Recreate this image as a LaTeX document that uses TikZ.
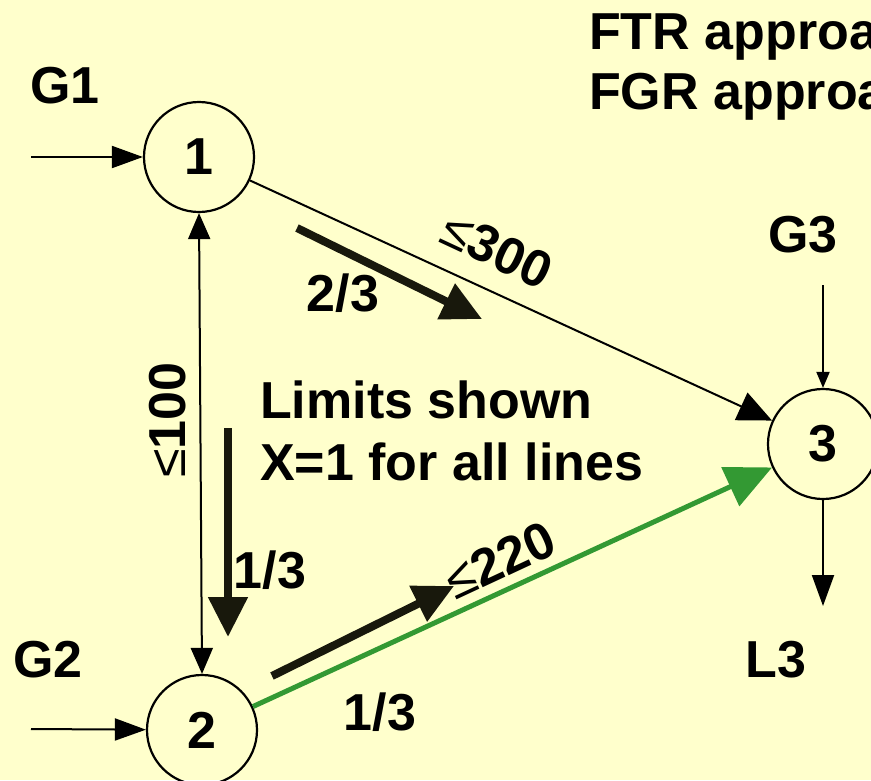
\documentclass[tikz,border=0pt]{standalone}
\usepackage{fontspec}
\setmainfont{Liberation Sans}
\usetikzlibrary{arrows.meta}
\definecolor{bg}{HTML}{FFFFCC}
\definecolor{dk}{HTML}{18180C}
\definecolor{gr}{HTML}{339933}
\begin{document}
\begin{tikzpicture}[x=1pt,y=-1pt,
  lbl/.style={font=\fontsize{52}{60}\selectfont\bfseries, inner sep=0pt},
  bus/.style={circle,draw,line width=2.2pt,minimum size=110pt,inner sep=0pt,font=\fontsize{52}{60}\selectfont\bfseries},
  thinarr/.style={line width=2pt,-{Triangle[length=31pt,width=22pt]}},
  smallarr/.style={line width=2pt,-{Triangle[length=16pt,width=13pt]}},
  midarr/.style={line width=2pt,-{Triangle[length=34pt,width=30pt]}},
  dblarr/.style={line width=2pt,{Triangle[length=26pt,width=22pt]}-{Triangle[length=26pt,width=22pt]}},
  thickarr/.style={dk,line width=8pt,-{Triangle[length=40pt,width=38pt]}},
  greenarr/.style={gr,line width=5pt,-{Triangle[length=46pt,width=42pt]}}]
\fill[bg] (0,0) rectangle (871,780);
\useasboundingbox (0,0) rectangle (871,780);

% buses
\node[bus] (n1) at (199,157) {1};
\node[bus] (n2) at (202,730) {2};
\node[bus] (n3) at (823,444) {3};

% free ends
\coordinate (g1in) at (31,157);
\coordinate (g2in) at (31,729);
\coordinate (g3in) at (823,285);
\coordinate (l3out) at (823,606);
\coordinate (t1a) at (297,228);
\coordinate (t1b) at (482,319);
\coordinate (t2a) at (228,428);
\coordinate (t2b) at (228,637);
\coordinate (t3a) at (272,676);
\coordinate (t3b) at (454,586);

% connectors
\draw[thinarr] (g1in) -- (n1);
\draw[thinarr] (g2in) -- (n2);
\draw[smallarr] (g3in) -- (n3);
\draw[thinarr] (n3) -- (l3out);
\draw[midarr] (n1) -- (n3);
\draw[dblarr] (n1.south) -- (n2.north);
\draw[greenarr] (n2) -- (n3);
\draw[thickarr] (t1a) -- (t1b);
\draw[thickarr] (t2a) -- (t2b);
\draw[thickarr] (t3a) -- (t3b);

% labels
\node[lbl] (lg1) at (65,86) {G1};
\node[lbl] (lg2) at (48,660) {G2};
\node[lbl] (lg3) at (803,235) {G3};
\node[lbl] (ll3) at (776,660) {L3};
\node[lbl] (f23) at (343,293) {2/3};
\node[lbl] (f13a) at (270,570) {1/3};
\node[lbl] (f13b) at (380,712) {1/3};
\node[lbl,rotate=-25] (lim13) at (497,250) {{\mdseries ≤}300};
\node[lbl,rotate=25] (lim23) at (500,560) {{\mdseries ≤}220};
\node[lbl,rotate=90] (lim12) at (168,420) {{\mdseries ≤}100};
\node[lbl,anchor=base west] (t1) at (260,418) {Limits shown};
\node[lbl,anchor=base west] (t2) at (260,480) {X=1 for all lines};
\node[lbl,anchor=base west] (h1) at (589,49) {FTR approa};
\node[lbl,anchor=base west] (h2) at (589,109) {FGR approa};
\end{tikzpicture}
\end{document}
